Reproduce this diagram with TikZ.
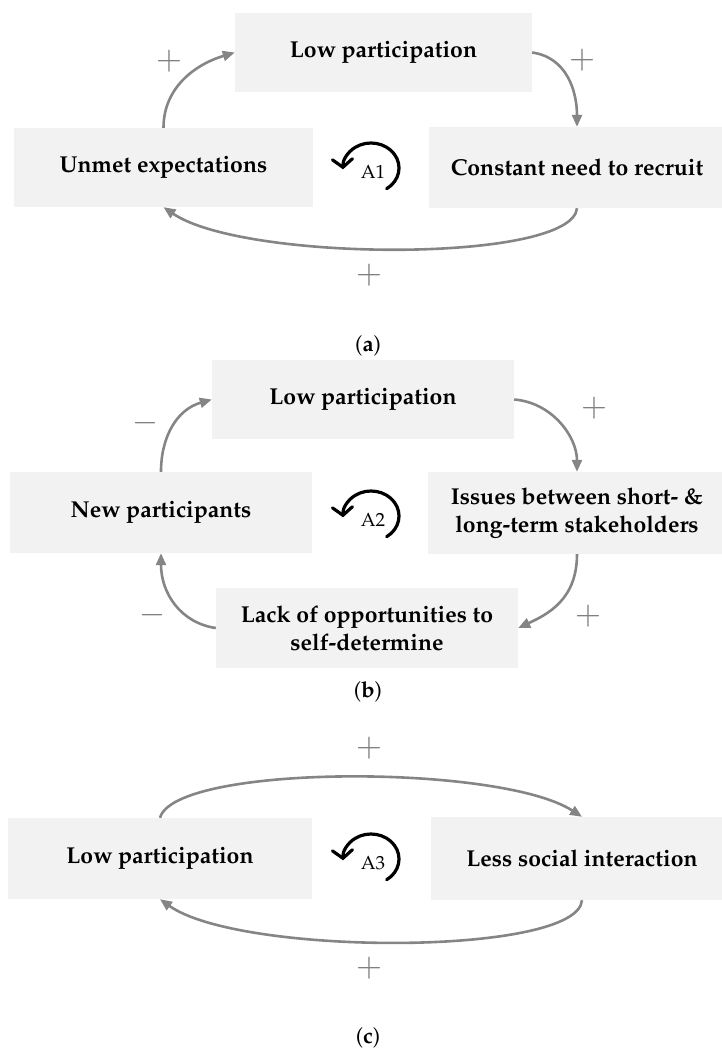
\documentclass[tikz,border=0pt]{standalone}
\usepackage[T1]{fontenc}
\usepackage{mathpazo}
\usetikzlibrary{arrows.meta}
\definecolor{boxfill}{HTML}{F2F2F2}
\definecolor{arrowgray}{HTML}{858585}
\definecolor{signgray}{HTML}{808080}
\begin{document}
\begin{tikzpicture}[x=1pt,y=1pt,
  box/.style={fill=boxfill, inner sep=0pt, align=center, font=\fontsize{23}{28}\selectfont\bfseries},
  arr/.style={draw=arrowgray, line width=2.6pt, -{Triangle[length=12pt,width=10pt]}},
  sign/.style={text=signgray, inner sep=0pt, font=\fontsize{32}{32}\selectfont},
  loopsym/.style={draw=black, line width=3.2pt, line cap=round, -{Straight Barb[length=8pt,width=20pt,line cap=round]}},
  looplbl/.style={inner sep=0pt, font=\fontsize{19}{19}\selectfont},
  capt/.style={inner sep=0pt, font=\fontsize{22}{22}\selectfont}]
\useasboundingbox (0,0) rectangle (721,-1050);
% ---------- (a)
\node[box, minimum width=297pt, minimum height=79pt] (LowA) at (383.5,-52.5) {Low participation};
\node[box, minimum width=299pt, minimum height=79pt] (Unmet) at (163.5,-167.5) {Unmet expectations};
\node[box, minimum width=296pt, minimum height=81pt] (Const) at (577,-167.5) {Constant need to recruit};
\draw[arr] (Unmet.north) .. controls +(0,40) and +(-40,-12) .. (LowA.west);
\draw[arr] (LowA.east) .. controls +(35,-5) and +(0,35) .. (Const.north);
\draw[arr] (Const.south) .. controls +(-5,-55) and +(81,-55) .. (Unmet.south);
\node[sign] (sa1) at (169,-61) {$+$};
\node[sign] (sa2) at (582,-60) {$+$};
\node[sign] (sa3) at (369,-275) {$+$};
\coordinate (L1) at (371,-168);
\draw[loopsym] ([shift={(-56:28 and 25)}]L1) arc[start angle=-56,end angle=183,x radius=28,y radius=25];
\node[looplbl] (A1) at (373,-171.5) {A1};
\node[capt] (capa) at (368,-346) {(\textbf{a})};
% ---------- (b)
\node[box, minimum width=302pt, minimum height=79pt] (LowB) at (363,-399.5) {Low participation};
\node[box, minimum width=302pt, minimum height=81pt] (NewP) at (161,-512.5) {New participants};
\node[box, minimum width=298pt, minimum height=82pt] (Issues) at (577,-513) {Issues between short- \&\\long-term stakeholders};
\node[box, minimum width=302pt, minimum height=80pt] (Lack) at (367,-628) {Lack of opportunities to\\self-determine};
\draw[arr] (NewP.north) .. controls +(0,35) and +(-35,-10) .. (LowB.west);
\draw[arr] (LowB.east) .. controls +(38,-3) and +(0,35) .. (Issues.north);
\draw[arr] (Issues.south) .. controls +(0,-45) and +(30,14) .. (Lack.east);
\draw[arr] (Lack.west) .. controls +(-35,5) and +(0,-40) .. (NewP.south);
\node[sign] (sb1) at (145,-423) {$-$};
\node[sign] (sb2) at (594,-408) {$+$};
\node[sign] (sb3) at (588,-616) {$+$};
\node[sign] (sb4) at (152,-615) {$-$};
\coordinate (L2) at (371,-516);
\draw[loopsym] ([shift={(-56:28 and 25)}]L2) arc[start angle=-56,end angle=183,x radius=28,y radius=25];
\node[looplbl] (A2) at (373,-520) {A2};
\node[capt] (capb) at (368,-692) {(\textbf{b})};
% ---------- (c)
\node[box, minimum width=304pt, minimum height=81pt] (LowC) at (160,-858.5) {Low participation};
\node[box, minimum width=302pt, minimum height=83pt] (Less) at (582,-858.5) {Less social interaction};
\draw[arr] (LowC.north) .. controls +(15,54) and +(-82,53) .. (Less.north);
\draw[arr] (Less.south) .. controls +(-4,-56) and +(80,-57) .. (LowC.south);
\node[sign] (sc1) at (369,-748) {$+$};
\node[sign] (sc2) at (369,-968) {$+$};
\coordinate (L3) at (371,-859);
\draw[loopsym] ([shift={(-56:28 and 25)}]L3) arc[start angle=-56,end angle=183,x radius=28,y radius=25];
\node[looplbl] (A3) at (373,-863) {A3};
\node[capt] (capc) at (368,-1038) {(\textbf{c})};
\end{tikzpicture}
\end{document}
